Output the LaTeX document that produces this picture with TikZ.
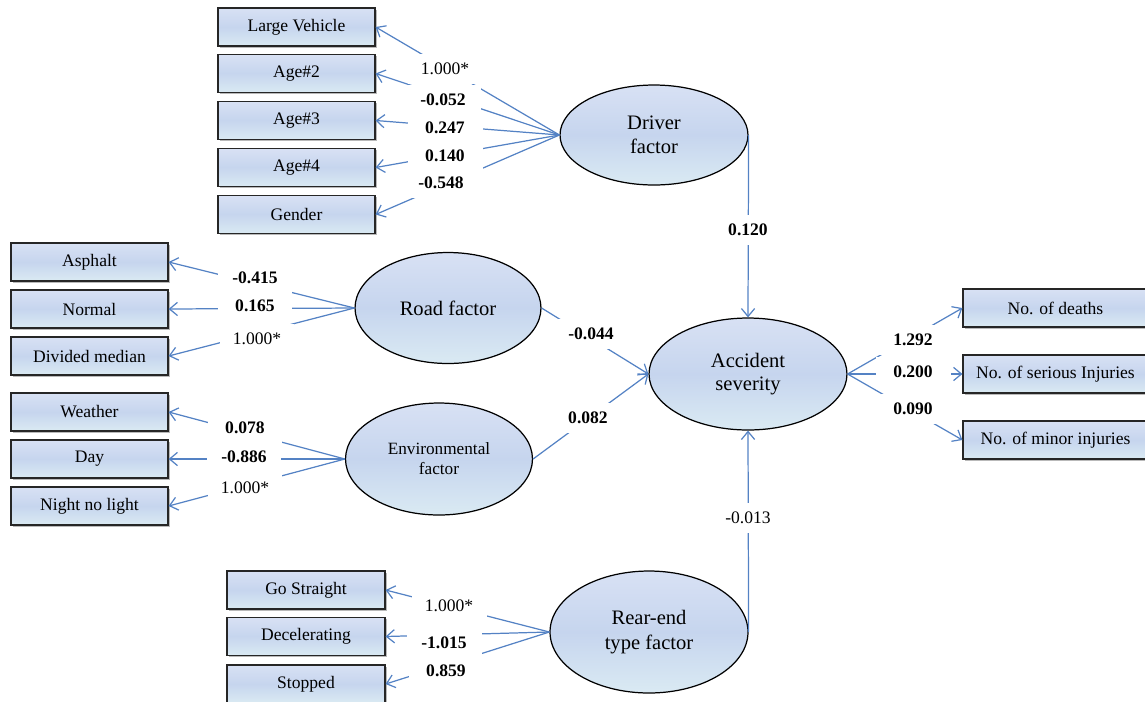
\documentclass[tikz,border=0pt]{standalone}
\usepackage{fontspec}
\setmainfont{Liberation Serif}
\usetikzlibrary{shapes.geometric,arrows.meta,shadows}
\definecolor{linkblue}{RGB}{84,130,196}
\definecolor{filltop}{RGB}{216,225,244}
\definecolor{fillmid}{RGB}{198,213,238}
\definecolor{fillbot}{RGB}{218,234,243}
\tikzset{
  item/.style={draw=black!85, line width=0.7pt, top color=filltop, bottom color=fillbot, middle color=fillmid,
    minimum width=3.14cm, minimum height=0.76cm, inner sep=0pt, font=\fontsize{10}{12}\selectfont,
    drop shadow={shadow xshift=0.9pt, shadow yshift=-0.9pt, opacity=0.55}},
  factor/.style={ellipse, draw=black, line width=0.7pt, top color=filltop, bottom color=fillbot, middle color=fillmid,
    inner sep=0pt, align=center, font=\fontsize{11.7}{13.5}\selectfont},
  link/.style={draw=linkblue, line width=0.7pt, -{Straight Barb[length=4.5pt,width=7.5pt]}},
  coef/.style={fill=white, inner sep=0pt, minimum width=1.5cm, minimum height=0.6cm, font=\fontsize{10}{12}\selectfont\bfseries},
  fixed/.style={coef, font=\fontsize{10}{12}\selectfont}
}
\begin{document}
\begin{tikzpicture}[x=0.02cm, y=-0.02cm]
            \useasboundingbox (0,0) rectangle (1145,701);
            \clip (0,0) rectangle (1145,701);
            \node[item] (largeveh) at (296.5,27) {Large Vehicle};
            \node[item] (age2) at (296.5,73.5) {Age\#2};
            \node[item] (age3) at (296.5,120.5) {Age\#3};
            \node[item] (age4) at (296.5,167.5) {Age\#4};
            \node[item] (gender) at (296.5,214.5) {Gender};
            \node[item] (asphalt) at (89.5,262) {Asphalt};
            \node[item] (normal) at (89.5,309) {Normal};
            \node[item] (divided) at (89.5,356) {Divided median};
            \node[item] (weather) at (89.5,412) {Weather};
            \node[item] (day) at (89.5,459) {Day};
            \node[item] (night) at (89.5,506) {Night no light};
            \node[item, minimum width=3.16cm] (straight) at (306,590) {Go Straight};
            \node[item, minimum width=3.16cm] (decel) at (306,636.5) {Decelerating};
            \node[item, minimum width=3.16cm] (stopped) at (306,684) {Stopped};
            \node[item, minimum width=3.7cm] (deaths) at (1055.5,308) {No. of deaths};
            \node[item, minimum width=3.7cm] (serious) at (1055.5,374) {No. of serious Injuries};
            \node[item, minimum width=3.7cm] (minor) at (1055.5,440) {No. of minor injuries};
            \node[factor, minimum width=3.76cm, minimum height=2cm] (driver) at (654,135) {Driver\\factor};
            \node[factor, minimum width=3.72cm, minimum height=2.22cm] (road) at (448,308) {Road factor};
            \node[factor, minimum width=3.74cm, minimum height=2.24cm, font=\fontsize{9.8}{11.3}\selectfont] (env) at (439,459) {Environmental\\factor};
            \node[factor, minimum width=3.96cm, minimum height=2.24cm] (severity) at (748,374) {Accident\\severity};
            \node[factor, minimum width=3.96cm, minimum height=2.44cm, font=\fontsize{11.7}{14.5}\selectfont] (rear) at (649,632) {Rear-end\\type factor};
            \draw[link] (driver.west) -- (largeveh.east);
            \draw[link] (driver.west) -- (age2.east);
            \draw[link] (driver.west) -- (age3.east);
            \draw[link] (driver.west) -- (age4.east);
            \draw[link] (driver.west) -- (gender.east);
            \draw[link] (road.west) -- (asphalt.east);
            \draw[link] (road.west) -- (normal.east);
            \draw[link] (road.west) -- (divided.east);
            \draw[link] (env.west) -- (weather.east);
            \draw[link] (env.west) -- (day.east);
            \draw[link] (env.west) -- (night.east);
            \draw[link] (rear.west) -- (straight.east);
            \draw[link] (rear.west) -- (decel.east);
            \draw[link] (rear.west) -- (stopped.east);
            \draw[link] (severity.east) -- (deaths.west);
            \draw[link] (severity.east) -- (serious.west);
            \draw[link] (severity.east) -- (minor.west);
            \draw[link] (driver.east) -- (severity.north);
            \draw[link] (road.east) -- (severity.west);
            \draw[link] (env.east) -- (severity.west);
            \draw[link] (rear.east) -- (severity.south);
            \node[fixed] (cdrv1) at (445,69) {1.000*};
            \node[coef] (cdrv2) at (443,100) {-0.052};
            \node[coef] (cdrv3) at (445,128) {0.247};
            \node[coef] (cdrv4) at (445,156) {0.140};
            \node[coef] (cdrv5) at (441,183) {-0.548};
            \node[coef] (croad1) at (255,278) {-0.415};
            \node[coef] (croad2) at (255,306) {0.165};
            \node[fixed] (croad3) at (257,339) {1.000*};
            \node[coef] (cenv1) at (245,428) {0.078};
            \node[coef] (cenv2) at (244,457) {-0.886};
            \node[fixed] (cenv3) at (245,488) {1.000*};
            \node[fixed] (crear1) at (449,606) {1.000*};
            \node[coef] (crear2) at (444,643) {-1.015};
            \node[coef] (crear3) at (446,671) {0.859};
            \node[coef] (csev1) at (913,340) {1.292};
            \node[coef] (csev2) at (913,372) {0.200};
            \node[coef] (csev3) at (913,409) {0.090};
            \node[coef] (cdriver) at (748,230) {0.120};
            \node[coef] (croad) at (591,334) {-0.044};
            \node[coef] (cenv) at (588,418) {0.082};
            \node[fixed] (crear) at (748,518) {-0.013};
        \end{tikzpicture}
\end{document}
